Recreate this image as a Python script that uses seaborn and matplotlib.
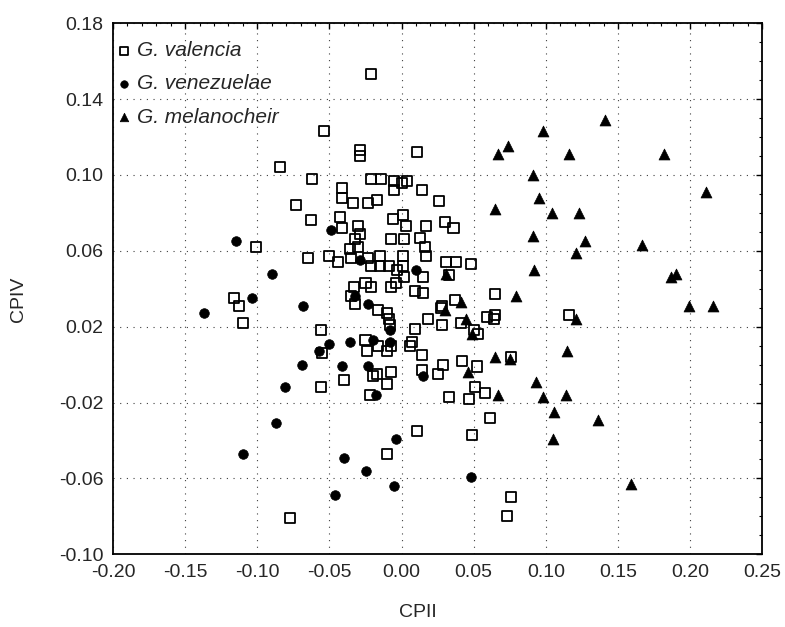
import matplotlib
matplotlib.use('Agg')
import matplotlib.pyplot as plt
import pandas as pd
import seaborn as sns
from matplotlib import ticker

# -----------------------------------------------------------------------------
# values (CPII, CPIV)

valencia_x = [
    -0.021, -0.054, -0.029, -0.029, -0.084, -0.062, -0.073, -0.063, -0.101,
    -0.065, -0.050, -0.044, -0.116, -0.113, -0.110, -0.041, -0.041, -0.034,
    -0.023, -0.017, -0.021, -0.014, -0.005, -0.005, -0.043, -0.041, -0.030,
    -0.029, -0.032, -0.006, -0.007, -0.036, -0.030, -0.035, -0.023, -0.015,
    -0.021, -0.015, -0.009, -0.003, -0.033, -0.025, -0.021, -0.007, -0.004,
    -0.035, -0.032, -0.016, -0.010, -0.009, -0.008, -0.056, -0.055, -0.040,
    -0.056, -0.025, -0.024, -0.016, -0.010, -0.007, -0.020, -0.017, -0.010,
    -0.007, -0.022, -0.010, -0.077, 0.116, 0.027, 0.018, 0.009, 0.028,
    0.041, 0.050, 0.053, 0.059, 0.065, 0.064, 0.007, 0.006, 0.014, 0.076,
    0.029, 0.042, 0.052, 0.025, 0.014, 0.051, 0.058, 0.033, 0.047, 0.061,
    0.011, 0.049, 0.076, 0.073, 0.011, 0.000, 0.004, 0.014, 0.026, 0.001,
    0.003, 0.017, 0.030, 0.036, 0.002, 0.013, 0.016, 0.017, 0.001, 0.001,
    0.002, 0.015, 0.015, 0.009, 0.031, 0.038, 0.048, 0.033, 0.065, 0.028,
    0.037,
]
valencia_y = [
    0.153, 0.123, 0.113, 0.110, 0.104, 0.098, 0.084, 0.076, 0.062,
    0.056, 0.057, 0.054, 0.035, 0.031, 0.022, 0.093, 0.088, 0.085,
    0.085, 0.087, 0.098, 0.098, 0.097, 0.092, 0.078, 0.072, 0.073,
    0.069, 0.066, 0.077, 0.066, 0.061, 0.062, 0.056, 0.056, 0.057,
    0.052, 0.052, 0.052, 0.050, 0.041, 0.043, 0.041, 0.041, 0.043,
    0.036, 0.032, 0.029, 0.027, 0.024, 0.021, 0.018, 0.006, -0.008,
    -0.012, 0.013, 0.007, 0.010, 0.007, 0.010, -0.006, -0.005, -0.010,
    -0.004, -0.016, -0.047, -0.081, 0.026, 0.030, 0.024, 0.019, 0.021,
    0.022, 0.018, 0.016, 0.025, 0.026, 0.024, 0.012, 0.010, 0.005, 0.004,
    0.000, 0.002, -0.001, -0.005, -0.003, -0.012, -0.015, -0.017, -0.018,
    -0.028, -0.035, -0.037, -0.070, -0.080, 0.112, 0.096, 0.097, 0.092,
    0.086, 0.079, 0.073, 0.073, 0.075, 0.072, 0.066, 0.067, 0.062, 0.057,
    0.057, 0.052, 0.046, 0.046, 0.038, 0.039, 0.054, 0.054, 0.053, 0.047,
    0.037, 0.031, 0.034,
]

venezuelae_x = [
    -0.115, -0.090, -0.104, -0.137, -0.068, -0.049, -0.029, -0.032, -0.023,
    -0.008, -0.050, -0.036, -0.057, -0.020, -0.008, -0.069, -0.041, -0.023,
    -0.081, -0.018, -0.087, -0.004, -0.110, -0.040, -0.025, -0.005, -0.046,
    0.015, 0.048, 0.010,
]
venezuelae_y = [
    0.065, 0.048, 0.035, 0.027, 0.031, 0.071, 0.055, 0.036, 0.032,
    0.018, 0.011, 0.012, 0.007, 0.013, 0.012, 0.000, -0.001, -0.001,
    -0.012, -0.016, -0.031, -0.039, -0.047, -0.049, -0.056, -0.064, -0.069,
    -0.006, -0.059, 0.050,
]

melanocheir_x = [
    0.141, 0.098, 0.067, 0.074, 0.116, 0.182, 0.091, 0.211, 0.095, 0.065,
    0.104, 0.123, 0.091, 0.127, 0.121, 0.167, 0.092, 0.190, 0.187, 0.079,
    0.031, 0.041, 0.030, 0.199, 0.216, 0.121, 0.045, 0.049, 0.065, 0.075,
    0.115, 0.046, 0.093, 0.098, 0.114, 0.067, 0.106, 0.136, 0.105, 0.159,
]
melanocheir_y = [
    0.129, 0.123, 0.111, 0.115, 0.111, 0.111, 0.100, 0.091, 0.088, 0.082,
    0.080, 0.080, 0.068, 0.065, 0.059, 0.063, 0.050, 0.048, 0.046, 0.036,
    0.048, 0.033, 0.029, 0.031, 0.031, 0.024, 0.024, 0.016, 0.004, 0.003,
    0.007, -0.004, -0.009, -0.017, -0.016, -0.016, -0.025, -0.029, -0.039,
    -0.063,
]

val = pd.DataFrame({'CPII': valencia_x, 'CPIV': valencia_y})
ven = pd.DataFrame({'CPII': venezuelae_x, 'CPIV': venezuelae_y})
mel = pd.DataFrame({'CPII': melanocheir_x, 'CPIV': melanocheir_y})

# -----------------------------------------------------------------------------
# plot

sns.set_style('white')
plt.rcParams['font.family'] = ['Liberation Sans', 'DejaVu Sans']

fig, ax = plt.subplots(figsize=(7.85, 6.27), dpi=100)
fig.subplots_adjust(left=0.144, right=0.971, top=0.963, bottom=0.116)

sns.scatterplot(data=val, x='CPII', y='CPIV', ax=ax, marker='s', s=52,
                facecolor='none', edgecolor='black', linewidth=1.3,
                label='G. valencia', zorder=3)
sns.scatterplot(data=ven, x='CPII', y='CPIV', ax=ax, marker='o', s=48,
                color='black', edgecolor='black', linewidth=0.5,
                label='G. venezuelae', zorder=3)
sns.scatterplot(data=mel, x='CPII', y='CPIV', ax=ax, marker='^', s=62,
                color='black', edgecolor='black', linewidth=0.5,
                label='G. melanocheir', zorder=3)

ax.set(xlim=(-0.20, 0.25), ylim=(-0.10, 0.18))
ax.xaxis.set_major_locator(ticker.MultipleLocator(0.05))
ax.xaxis.set_minor_locator(ticker.MultipleLocator(0.01))
ax.yaxis.set_major_locator(ticker.FixedLocator(
    [-0.10, -0.06, -0.02, 0.02, 0.06, 0.10, 0.14, 0.18]))
ax.yaxis.set_minor_locator(ticker.MultipleLocator(0.01))
ax.xaxis.set_major_formatter(ticker.FormatStrFormatter('%.2f'))
ax.yaxis.set_major_formatter(ticker.FormatStrFormatter('%.2f'))
ax.tick_params(which='both', direction='in', top=True, right=True,
               color='black', labelsize=14, pad=7)
ax.tick_params(which='major', length=4, width=1)
ax.tick_params(which='minor', length=2.5, width=0.8)
ax.grid(True, which='major', color='0.25', lw=0.8, ls=(0, (1, 5)))
for sp in ax.spines.values():
    sp.set_color('black')
    sp.set_linewidth(1.3)

ax.set_xlabel('CPII', fontsize=14)
ax.set_ylabel('CPIV', fontsize=14)
ax.xaxis.set_label_coords(0.47, -0.094)
ax.yaxis.set_label_coords(-0.132, 0.481)

leg = ax.legend(loc='upper left', bbox_to_anchor=(0.004, 0.966),
                frameon=False, prop={'style': 'italic', 'size': 15},
                handletextpad=0.22, borderaxespad=0, borderpad=0,
                labelspacing=0.68, markerscale=0.78, handlelength=0.8)

fig.savefig('out.png', dpi=100)
